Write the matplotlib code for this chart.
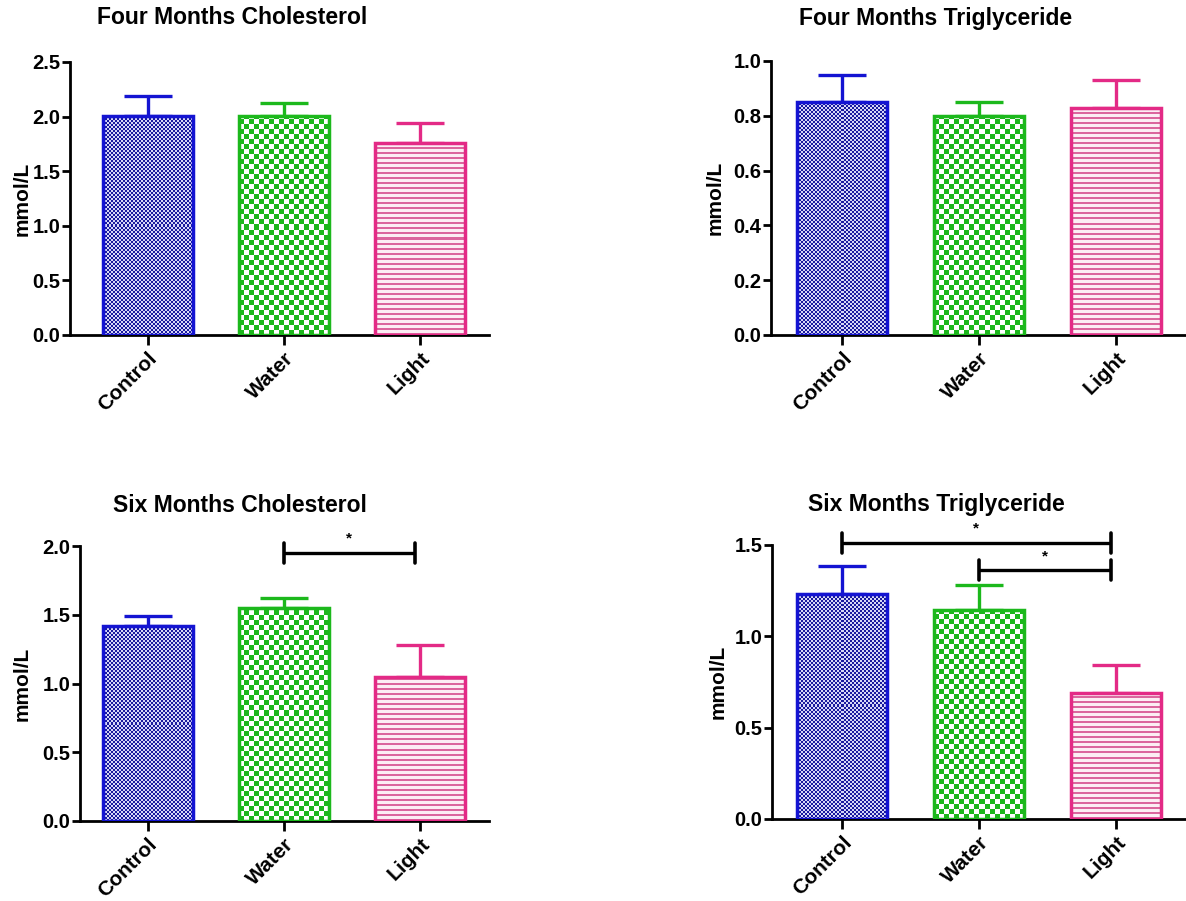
import numpy as np
import matplotlib
matplotlib.use("Agg")
from matplotlib import pyplot as plt

plt.rcParams['font.family'] = ['Liberation Sans', 'DejaVu Sans']
plt.rcParams['font.weight'] = 'bold'

# data
groups = ['Control', 'Water', 'Light']
chol4_mean = [2.01, 2.01, 1.76]
chol4_err = [0.18, 0.11, 0.18]
tg4_mean = [0.85, 0.80, 0.83]
tg4_err = [0.10, 0.05, 0.10]
chol6_mean = [1.42, 1.55, 1.05]
chol6_err = [0.07, 0.07, 0.23]
tg6_mean = [1.23, 1.14, 0.69]
tg6_err = [0.15, 0.14, 0.15]
# significance brackets: (from group, to group, height)
chol6_sig = [(1, 2, 1.95)]
tg6_sig = [(0, 2, 1.51), (1, 2, 1.36)]

W, H = 1186, 901
colors = ['#1414d2', '#1cb81c', '#e32a86']
patterns = ['fine', 'checker', 'lines']


def add_box(fig, left, top, right, bottom):
    return fig.add_axes([left / W, (H - bottom) / H, (right - left) / W, (bottom - top) / H])


def pattern_image(kind, nx, ny):
    jj, ii = np.meshgrid(np.arange(nx), np.arange(ny))
    img = np.ones((ny, nx, 3))
    if kind == 'fine':
        on = ((ii // 2) + (jj // 2)) % 2 == 0
        img[on] = [0.10, 0.10, 0.62]
        img[~on] = [0.84, 0.84, 0.97]
    elif kind == 'checker':
        on = ((ii // 5) + (jj // 5)) % 2 == 0
        img[on] = [0.11, 0.72, 0.11]
        img[~on] = [1.0, 1.0, 1.0]
    else:
        on = (ii % 5) < 2
        img[on] = [0.86, 0.40, 0.62]
        img[~on] = [0.99, 0.93, 0.96]
    return img


def draw_panel(ax, title_xy, title, means, errs, xlim, ymax, ystep, sig=()):
    ax.set_xlim(*xlim)
    ax.set_ylim(0, ymax)
    x = np.arange(len(groups))
    bars = ax.bar(x, means, width=0.66, facecolor='none', edgecolor=colors,
                  linewidth=2.5, zorder=3)
    for b, kind, c, m, e, xi in zip(bars, patterns, colors, means, errs, x):
        x0, w, h = b.get_x(), b.get_width(), b.get_height()
        p0 = ax.transData.transform((x0, 0))
        p1 = ax.transData.transform((x0 + w, h))
        nx, ny = int(round(p1[0] - p0[0])), int(round(p1[1] - p0[1]))
        ax.imshow(pattern_image(kind, nx, ny), extent=(x0, x0 + w, 0, h), origin='lower',
                  aspect='auto', interpolation='nearest', zorder=2)
        ax.errorbar(xi, m, yerr=[[0], [e]], fmt='none', ecolor=c, elinewidth=2.4,
                    capsize=17, capthick=2.4, zorder=1)
    ax.set_xlim(*xlim)
    ax.set_ylim(0, ymax)

    for i, j, y in sig:
        x1 = j - 0.04
        ax.plot([i, x1], [y, y], color='black', lw=2.4, clip_on=False, zorder=4,
                solid_capstyle='butt')
        dy = ymax * 0.036
        for xx in (i, x1):
            ax.plot([xx, xx], [y - dy, y + dy], color='black', lw=2.6, clip_on=False,
                    zorder=4, solid_capstyle='round')
        ax.text((i + x1) / 2, y + dy * 0.7, '*', ha='center', va='bottom', fontsize=11,
                clip_on=False)

    ax.set_yticks(np.arange(0, ymax + ystep / 2, ystep))
    ax.yaxis.set_major_formatter(plt.FormatStrFormatter('%.1f'))
    ax.set_xticks(x)
    ax.set_xticklabels(groups, rotation=45, ha='right', va='top', rotation_mode='anchor',
                       fontsize=15)
    ax.tick_params(axis='y', labelsize=14.5, length=6, width=2, pad=1)
    ax.tick_params(axis='x', length=7, width=2, pad=3)
    for s in ['top', 'right']:
        ax.spines[s].set_visible(False)
    for s in ['left', 'bottom']:
        ax.spines[s].set_linewidth(2)
    ax.set_ylabel('mmol/L', fontsize=15, fontweight='bold')
    fig = ax.figure
    fig.text(title_xy[0] / W, 1 - title_xy[1] / H, title, ha='center', va='center',
             fontsize=16.5, fontweight='bold')


fig = plt.figure(figsize=(W / 100, H / 100), dpi=100)

ax1 = add_box(fig, 70, 62, 489, 335)
draw_panel(ax1, (232, 18), 'Four Months Cholesterol', chol4_mean, chol4_err,
           (-0.57, 2.506), 2.5, 0.5)
ax1.yaxis.set_label_coords(-0.091, 0.5)

ax2 = add_box(fig, 771, 61, 1186, 335)
draw_panel(ax2, (936, 18), 'Four Months Triglyceride', tg4_mean, tg4_err,
           (-0.518, 2.51), 1.0, 0.2)
ax2.yaxis.set_label_coords(-0.111, 0.5)

ax3 = add_box(fig, 80, 546, 489, 821)
draw_panel(ax3, (240, 505), 'Six Months Cholesterol', chol6_mean, chol6_err,
           (-0.497, 2.506), 2.0, 0.5, chol6_sig)
ax3.yaxis.set_label_coords(-0.118, 0.5)

ax4 = add_box(fig, 772, 544.5, 1186, 819)
draw_panel(ax4, (936, 505), 'Six Months Triglyceride', tg6_mean, tg6_err,
           (-0.51, 2.51), 1.5, 0.5, tg6_sig)
ax4.yaxis.set_label_coords(-0.106, 0.5)

fig.savefig('out.png', dpi=100)
